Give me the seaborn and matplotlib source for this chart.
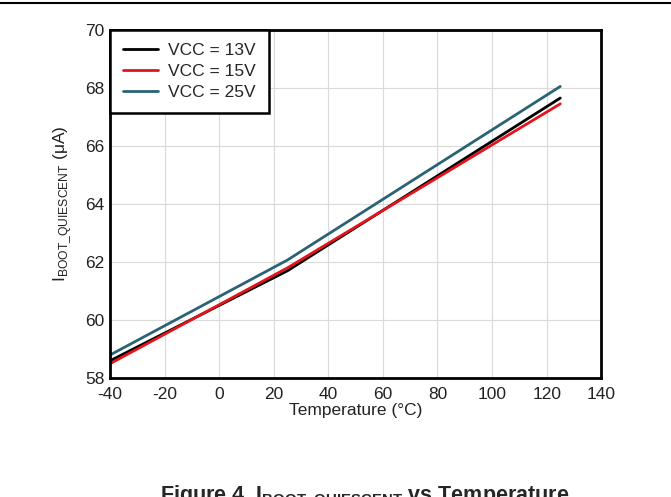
import matplotlib
matplotlib.use("Agg")
import matplotlib.pyplot as plt
import seaborn as sns
import pandas as pd

temps = [-40, 25, 125]
vcc13 = [58.6, 61.7, 67.65]
vcc15 = [58.5, 61.8, 67.45]
vcc25 = [58.8, 62.07, 68.05]
labels = ["VCC = 13V", "VCC = 15V", "VCC = 25V"]
colors = ["#000000", "#e3141b", "#2a6474"]
xticks = [-40, -20, 0, 20, 40, 60, 80, 100, 120, 140]
yticks = [58, 60, 62, 64, 66, 68, 70]

sns.set_theme(style="white")
plt.rcParams['font.family'] = ['Liberation Sans', 'DejaVu Sans']
plt.rcParams['mathtext.fontset'] = 'custom'
plt.rcParams['mathtext.rm'] = 'Liberation Sans'
plt.rcParams['mathtext.bf'] = 'Liberation Sans:bold'
plt.rcParams['axes.unicode_minus'] = False

rows = []
for lab, vals in zip(labels, [vcc13, vcc15, vcc25]):
    for t, v in zip(temps, vals):
        rows.append({"T": t, "I": v, "series": lab})
df = pd.DataFrame(rows)

fig = plt.figure(figsize=(6.71, 4.97), dpi=100)
ax = fig.add_axes([0.164, 0.239, 0.732, 0.701])
sns.lineplot(data=df, x="T", y="I", hue="series", palette=colors, ax=ax,
             linewidth=2, legend=True)
ax.set_xlim(-40, 140)
ax.set_ylim(58, 70)
ax.set_xticks(xticks)
ax.set_yticks(yticks)
ax.tick_params(labelsize=12.5, length=0, colors='#222222')
ax.tick_params(axis='x', pad=6)
ax.tick_params(axis='y', pad=4)
ax.grid(True, color='#dadada', linewidth=0.8)
for s in ax.spines.values():
    s.set_linewidth(2)
    s.set_color('black')
ax.set_xlabel("Temperature (°C)", fontsize=12.5, labelpad=1, color='#222222')
ax.set_ylabel(r"I$_{\mathregular{BOOT\_QUIESCENT}}$ (μA)", fontsize=12.5, labelpad=8,
              color='#222222')

leg = ax.legend(loc='upper left', fontsize=12.5, frameon=True, fancybox=False,
                borderaxespad=0, handlelength=2.0, borderpad=0.75, labelspacing=0.35,
                handletextpad=0.6)
leg.get_frame().set_edgecolor('black')
leg.get_frame().set_linewidth(1.8)
leg.get_frame().set_alpha(1)

fig.add_artist(plt.Line2D([0, 1], [1 - 3/497, 1 - 3/497], color='black', linewidth=1.5,
                          transform=fig.transFigure))
fig.text(0.543, 1 - 484/497, r"Figure 4. I$_{\mathregular{BOOT\_QUIESCENT}}$ vs Temperature",
         ha='center', va='top', fontsize=15.5, fontweight='bold')

fig.savefig("out.png", dpi=100)
